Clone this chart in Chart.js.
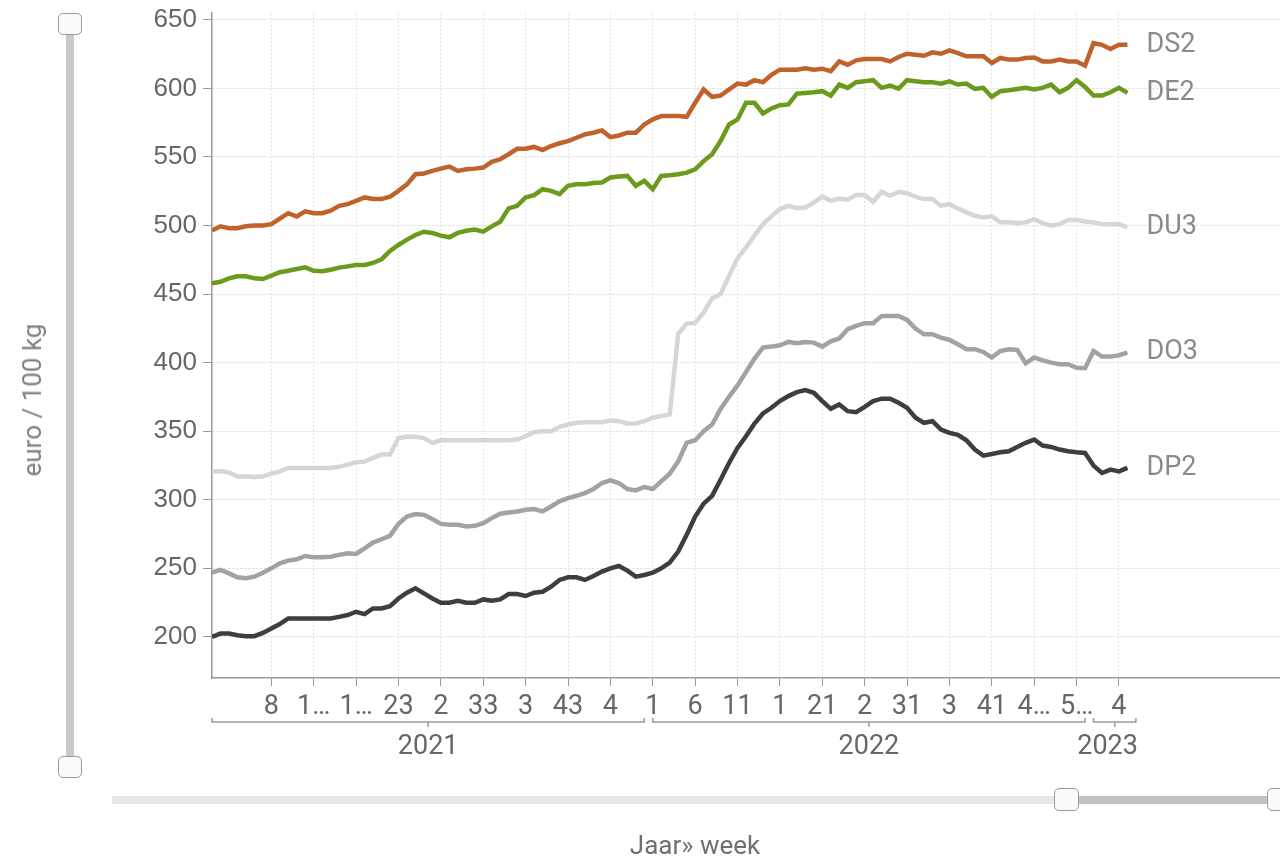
<!DOCTYPE html>
<html>
<head>
<meta charset="utf-8">
<script src="https://cdn.jsdelivr.net/npm/chart.js@4.4.0/dist/chart.umd.min.js"></script>
<style>
  html, body { margin: 0; padding: 0; background: #fff; }
  #wrap { position: relative; width: 1280px; height: 859px; overflow: hidden; }
  #chart { position: absolute; left: 0; top: 0; }
  .track { position: absolute; background: #c9c9cc; }
  .handle { position: absolute; width: 24px; height: 22px; box-sizing: border-box; border: 1.5px solid #9a9a9a; border-radius: 5px; background: #fafafa; }
  .title { position: absolute; font-family: Roboto, sans-serif; font-size: 26px; color: #808080; white-space: nowrap; }
</style>
</head>
<body>
<div id="wrap">
  <canvas id="chart" width="1280" height="859"></canvas>

  <!-- range sliders (decoration) -->
  <div class="track" style="left:66px; top:24px; width:8px; height:742px;"></div>
  <div class="handle" style="left:58px; top:13px;"></div>
  <div class="handle" style="left:58px; top:756px;"></div>
  <div class="track" style="left:112px; top:796px; width:1168px; height:8px; background:#e8e8e8;"></div>
  <div class="track" style="left:1066px; top:796px; width:214px; height:8px; background:#c2c2c2;"></div>
  <div class="handle" style="left:1054px; top:788px; width:25px; height:23px;"></div>
  <div class="handle" style="left:1267px; top:788px; width:25px; height:23px;"></div>

  <div class="title" style="left:32px; top:400px; transform: translate(-50%, -50%) rotate(-90deg);">euro / 100 kg</div>
  <div class="title" style="left:695px; top:845px; transform: translate(-50%, -50%); color:#707070;">Jaar» week</div>
</div>

<script>
// ===== DATA =====
const years = [2021, 2022, 2023];
const weeksPerYear = [52, 52, 5];

// category keys "year-week", one per data point
const categories = [];
years.forEach((yr, k) => {
  for (let w = 1; w <= weeksPerYear[k]; w++) categories.push(yr + '-' + w);
});

const tickWeeks = ['2021-8', '2021-13', '2021-18', '2021-23', '2021-28', '2021-33', '2021-38', '2021-43', '2021-48',
  '2022-1', '2022-6', '2022-11', '2022-16', '2022-21', '2022-26', '2022-31', '2022-36', '2022-41', '2022-46', '2022-51',
  '2023-4'];
const tickLabels = ['8', '1…', '1…', '23', '2', '33', '3', '43', '4',
  '1', '6', '11', '1', '21', '2', '31', '3', '41', '4…', '5…',
  '4'];

const seriesNames = ['DS2', 'DE2', 'DU3', 'DO3', 'DP2'];
const seriesColors = ['#c0622c', '#6b9a1c', '#d6d6d6', '#a2a2a2', '#3c3f3b'];

const ds2 = [496.3, 499.4, 498, 498, 499.4, 500, 500, 501, 505, 509, 506.6, 510.3, 509, 509, 510.8, 514.4, 515.6, 518, 520.5, 519.3,
  519.3, 521, 525.3, 530, 537.4, 538, 539.8, 541.5, 543, 539.8, 541, 541.5, 542.3, 546.4, 548.3, 552, 556, 556, 557.3, 555,
  558, 560, 561.6, 564, 566.5, 567.7, 569.4, 564.5, 565.7, 567.7, 567.7, 573.7,
  577.4, 579.8, 579.8, 579.8, 579.3, 589.5, 599.2, 593.8, 594.8, 599.2, 603.5, 602.8, 606, 604.5, 610, 613.7, 613.7, 613.7,
  614.6, 613.7, 614.4, 612.5, 619.7, 617.3, 620.5, 621.4, 621.4, 621.4, 619.7, 622.9, 625.3, 624.6, 623.8, 626.3, 625.3, 627.7,
  625.8, 623.4, 623.4, 623.4, 618.5, 622.2, 621, 621, 622.2, 622.6, 619.7, 619.7, 621, 619.7, 619.7, 616.6,
  633, 631.8, 628.7, 631.8, 631.8];

const de2 = [457.8, 459, 461.5, 463, 463, 461.5, 461, 463.4, 465.9, 467, 468.3, 469.5, 467, 466.6, 467.8, 469.3, 470.2, 471.2, 471.2, 472.7,
  475.4, 481.5, 485.8, 489.7, 493.1, 495.5, 494.6, 492.6, 491.4, 494.6, 496.2, 497, 495.5, 499.4, 502.8, 512.5, 514.4, 520.5, 522.2, 526.5,
  525.3, 522.9, 529, 530.1, 530.1, 531, 531.4, 535, 535.7, 536.2, 529, 532.6,
  526.5, 536.2, 536.7, 537.4, 538.6, 541, 547, 552, 561.6, 573.7, 577.4, 589.5, 589.5, 581.7, 585.4, 587.8, 588.3, 596.2,
  596.7, 597.2, 598, 594.8, 602.8, 600.4, 604.5, 605.2, 606, 600.4, 602, 599.9, 606, 605.2, 604.5, 604.5, 603.5, 605.2,
  602.8, 603.5, 599.6, 600.4, 593.8, 598, 598.7, 599.6, 600.4, 599.2, 600.4, 602.8, 597.2, 600.4, 606, 601,
  594.8, 594.8, 597.2, 600.4, 596.7];

const du3 = [320.7, 320.7, 320, 317, 317, 316.6, 317, 319, 320.7, 323.2, 323.2, 323.2, 323.2, 323.2, 323.2, 324, 325.6, 327.3, 327.8, 330.5,
  333, 333, 345, 345.9, 345.9, 345, 341.5, 343.4, 343.4, 343.4, 343.4, 343.4, 343.4, 343.4, 343.4, 343.4, 343.9, 346.3, 349.3, 350,
  350, 353.2, 354.9, 356.1, 356.6, 356.6, 356.6, 357.8, 357.3, 355.6, 355.6, 357.3,
  359.8, 361, 362.2, 421, 428.5, 429, 436.6, 446.8, 450, 463.4, 476, 484, 492.6, 501, 506.7, 512, 514.4, 512.7,
  513.2, 516.8, 521.2, 518, 519.7, 518.8, 522.2, 522.2, 517.3, 524.6, 521.7, 524.6, 523.4, 521, 519.3, 519.3, 514.4, 515.6,
  512.5, 509.6, 507.1, 505.9, 506.7, 502.3, 502.3, 501.8, 502.3, 504.7, 501.8, 499.9, 501, 504, 504, 503,
  502.3, 501, 501, 501, 498.7];

const do3 = [246.8, 248.8, 246.3, 243.4, 242.7, 243.9, 246.8, 250, 253.7, 255.6, 256.6, 259, 258, 258, 258.5, 259.8, 261, 260.5, 264.6, 268.8,
  271.2, 273.7, 282.4, 287.8, 289.5, 289, 285.9, 282.4, 281.7, 281.7, 280.5, 281, 282.9, 286.6, 289.8, 290.7, 291.5, 292.7, 293.2, 291.5,
  295.1, 298.8, 301.2, 302.9, 304.9, 307.8, 312.2, 314.1, 312.2, 307.8, 306.8, 309.3,
  307.8, 313.4, 319, 328, 341.5, 343.4, 350, 354.9, 366.3, 375.1, 383.4, 393.2, 402.9, 411, 411.7, 412.7, 415.1, 414.1,
  415.1, 414.6, 411.7, 415.6, 417.6, 424.4, 426.8, 428.8, 428.8, 434.1, 434.1, 434.1, 431.2, 424.9, 420.7, 420.7, 418.3, 416.6,
  413.4, 409.8, 409.8, 407.8, 403.7, 408.5, 409.8, 409.3, 399.5, 403.7, 401.7, 400, 398.8, 398.8, 396.3, 395.9,
  408.5, 404.4, 404.4, 405.4, 407.3];

const dp2 = [200, 202.4, 202.4, 201.2, 200.5, 200.5, 202.9, 206.1, 209.3, 213.4, 213.4, 213.4, 213.4, 213.4, 213.4, 214.6, 215.9, 218.3, 216.6, 220.7,
  220.7, 222.4, 228, 232.2, 235.4, 231.7, 228, 224.9, 224.9, 226.3, 224.9, 224.9, 227.3, 226.3, 227.3, 231.2, 231.2, 229.8, 232.2, 232.9,
  236.6, 241.5, 243.4, 243.4, 241.5, 244.4, 247.6, 250, 251.7, 248.3, 243.9, 245.1,
  246.8, 250, 254.1, 262.2, 274.4, 287.8, 297.1, 302.9, 314.6, 326.8, 337.8, 346.3, 355.6, 362.9, 367.1, 372, 375.6, 378.5,
  380, 378, 372, 366.3, 369.5, 364.6, 363.9, 367.8, 372, 373.7, 373.7, 370.7, 367.1, 359.8, 356.1, 357.3, 351.2, 348.8,
  347.3, 343.4, 336.6, 332.2, 333.4, 334.6, 335.4, 338.5, 341.5, 343.9, 339.5, 338.5, 336.6, 335.4, 334.6, 334.1,
  324.9, 319.5, 322, 320.7, 323.2];

const seriesValues = [ds2, de2, du3, do3, dp2];

// ===== PLUGINS =====
const FONT = 'Roboto, sans-serif';

// year brackets under the week ticks
const yearBrackets = {
  id: 'yearBrackets',
  afterDraw(chart) {
    const { ctx, scales: { x }, chartArea } = chart;
    const yLine = chartArea.bottom + 44;
    ctx.save();
    ctx.strokeStyle = '#9a9a9a';
    ctx.lineWidth = 1.5;
    ctx.fillStyle = '#666';
    ctx.font = '27px ' + FONT;
    ctx.textAlign = 'center';
    ctx.textBaseline = 'middle';
    let start = 0;
    years.forEach((yr, k) => {
      const end = start + weeksPerYear[k] - 1;
      const x1 = x.getPixelForValue(start);
      // last (partial) year: bracket runs one week past the data
      const x2 = x.getPixelForValue(k === years.length - 1 ? end + 1 : end);
      const mid = (x1 + x2) / 2;
      ctx.beginPath();
      ctx.moveTo(x1, yLine - 4);
      ctx.lineTo(x1, yLine);
      ctx.lineTo(x2, yLine);
      ctx.lineTo(x2, yLine - 4);
      ctx.moveTo(mid, yLine);
      ctx.lineTo(mid, yLine + 5);
      ctx.stroke();
      // keep the label from running past the bracket end
      const w = ctx.measureText(String(yr)).width;
      const lx = Math.min(mid, x2 - w / 2 + 2);
      ctx.fillText(String(yr), lx, yLine + 25);
      start = end + 1;
    });
    ctx.restore();
  }
};

// series names at the end of each line
const endLabels = {
  id: 'endLabels',
  afterDatasetsDraw(chart) {
    const { ctx } = chart;
    ctx.save();
    ctx.font = '27px ' + FONT;
    ctx.fillStyle = '#8a8a8a';
    ctx.textAlign = 'left';
    ctx.textBaseline = 'middle';
    chart.data.datasets.forEach((ds, k) => {
      const pts = chart.getDatasetMeta(k).data;
      const last = pts[pts.length - 1];
      ctx.fillText(ds.label, last.x + 19, last.y);
    });
    ctx.restore();
  }
};

// ===== CHART =====
new Chart(document.getElementById('chart'), {
  type: 'line',
  data: {
    datasets: seriesNames.map((name, k) => ({
      label: name,
      data: seriesValues[k].map((v, i) => ({ x: i, y: v })),
      borderColor: seriesColors[k],
      borderWidth: 4.5,
      pointRadius: 0,
      tension: 0,
      fill: false,
    }))
  },
  options: {
    responsive: false,
    animation: false,
    layout: { padding: { top: 13, right: 0, bottom: 0, left: 0 } },
    plugins: {
      legend: { display: false },
      tooltip: { enabled: false }
    },
    scales: {
      x: {
        type: 'linear',
        min: 0,
        max: 126,
        afterBuildTicks(s) {
          s.ticks = tickWeeks.map(k => ({ value: categories.indexOf(k) }));
        },
        afterFit(s) {
          s.height = 181;
          s.paddingLeft = 0;
          s.paddingRight = 0;
        },
        ticks: {
          autoSkip: false,
          maxRotation: 0,
          padding: 5,
          color: '#666',
          font: { family: FONT, size: 27 },
          callback: (v, i) => tickLabels[i]
        },
        grid: { color: '#e4e4e4', tickColor: '#9a9a9a', tickLength: 8 },
        border: { color: '#9a9a9a', width: 1.5, dash: [2, 2] }
      },
      y: {
        min: 170,
        max: 655,
        afterFit(s) {
          s.width = 212;
          s.paddingTop = 0;
          s.paddingBottom = 0;
        },
        ticks: {
          stepSize: 50,
          includeBounds: false,
          padding: 6,
          color: '#666',
          font: { family: '"Liberation Sans", Arial, sans-serif', size: 26 }
        },
        grid: { color: '#d8d8d8', tickColor: '#9a9a9a', tickLength: 9 },
        border: { color: '#9a9a9a', width: 1.5, dash: [2, 2] }
      }
    }
  },
  plugins: [yearBrackets, endLabels]
});
</script>
</body>
</html>
